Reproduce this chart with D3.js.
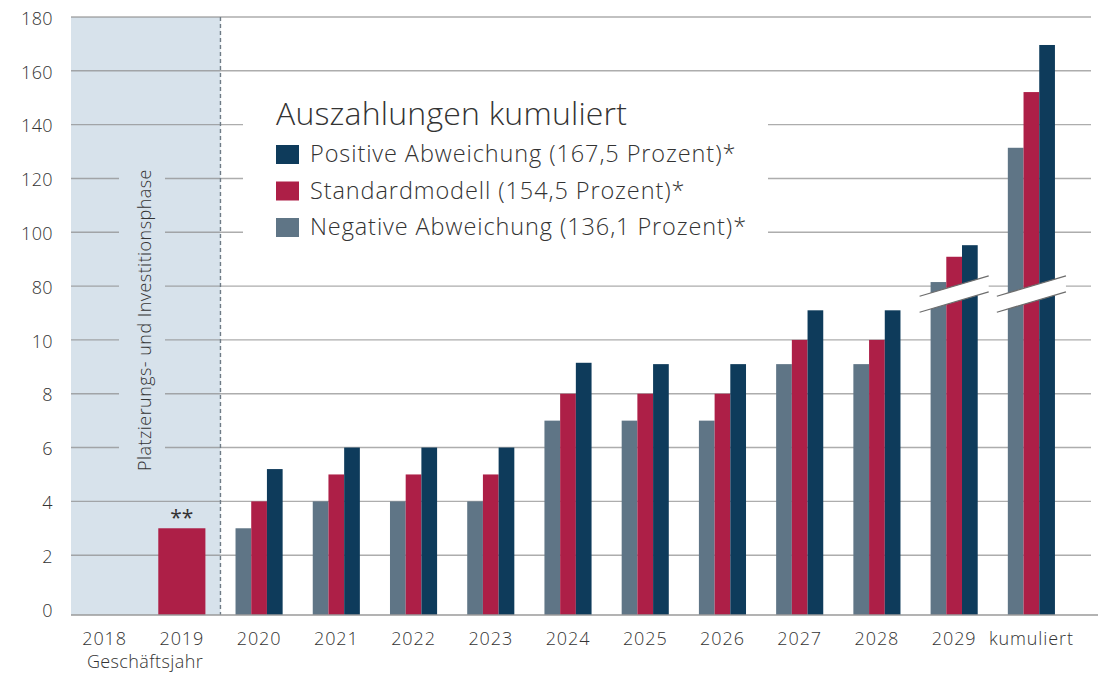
<!DOCTYPE html>
<html>
<head>
<meta charset="utf-8">
<script src="https://cdn.jsdelivr.net/npm/d3@7"></script>
<style>
  body { margin: 0; background: #fff; }
  svg text { font-family: "Open Sans", "Noto Sans", sans-serif; font-weight: 300; fill: #333; }
</style>
</head>
<body>
<script>
// data
var categories = ["2018", "2019", "2020", "2021", "2022", "2023", "2024", "2025", "2026", "2027", "2028", "2029", "kumuliert"];
var negative = [null, null, 3, 4, 4, 4, 7, 7, 7, 9.1, 9.1, 81.5, 131.4];
var standard = [null, 3, 4, 5, 5, 5, 8, 8, 8, 10, 10, 90.9, 152.1];
var positive = [null, null, 5.2, 6, 6, 6, 9.15, 9.1, 9.1, 11.1, 11.1, 95.2, 169.6];
var yTicks = [0, 2, 4, 6, 8, 10, 80, 100, 120, 140, 160, 180];
var brokenCats = ["2029", "kumuliert"];

var seriesNames = ["Negative Abweichung (136,1 Prozent)*", "Standardmodell (154,5 Prozent)*", "Positive Abweichung (167,5 Prozent)*"];
var seriesValues = [negative, standard, positive];
var colors = ["#5f7586", "#ad1f47", "#0e3b5b"];

chart();

function chart ()
{
    var width = 1098,
        height = 676,
        left = 71,
        right = 1091,
        top = 17,
        baseline = 615,
        zeroY = 609;

    var svg = d3.select("body").append("svg")
        .attr("width", width)
        .attr("height", height);

    // broken axis: 0..10 and 80..180 share equal tick spacing
    var step = (zeroY - top) / 11;
    var y = d3.scaleLinear()
        .domain([0, 10, 12, 80, 180])
        .range([zeroY, zeroY - 5 * step, zeroY - 6 * step, zeroY - 6 * step, top]);

    var x0 = d3.scaleBand()
        .domain(categories)
        .range([66, 1070])
        .paddingInner(0.39)
        .paddingOuter(0.195);
    var x1 = d3.scaleBand()
        .domain(d3.range(3))
        .range([0, x0.bandwidth()]);

    // shaded phase
    var phaseRight = (x0("2019") + x0.bandwidth() + x0("2020")) / 2;
    svg.append("rect")
        .attr("x", left)
        .attr("y", top)
        .attr("width", phaseRight - left)
        .attr("height", baseline - top)
        .attr("fill", "#d7e2eb");

    // grid
    svg.append("g")
        .selectAll("line")
        .data(yTicks.filter(d => d > 0))
        .enter()
        .append("line")
        .attr("x1", left)
        .attr("x2", right)
        .attr("y1", d => y(d))
        .attr("y2", d => y(d))
        .attr("stroke", "#8a8a8a")
        .attr("stroke-opacity", 0.7)
        .attr("stroke-width", 1.4);

    // phase label (covers grid)
    var phaseX = 145;
    var phaseMid = 320;
    svg.append("rect")
        .attr("x", phaseX - 26)
        .attr("y", phaseMid - 152)
        .attr("width", 46)
        .attr("height", 304)
        .attr("fill", "#d7e2eb");
    svg.append("text")
        .attr("transform", "translate(" + (phaseX + 6) + "," + phaseMid + ") rotate(-90)")
        .attr("text-anchor", "middle")
        .style("font-size", "18px")
        .style("letter-spacing", "0.45px")
        .text("Platzierungs- und Investitionsphase");

    // bars
    var bars = svg.append("g");
    categories.forEach(function (c, i)
    {
        var present = seriesValues.map((s, k) => k).filter(k => seriesValues[k][i] != null);
        present.forEach(function (k)
        {
            var v = seriesValues[k][i];
            var bx = present.length === 1 ? x0(c) : x0(c) + x1(k);
            var bw = present.length === 1 ? x0.bandwidth() : x1.bandwidth();
            bars.append("rect")
                .attr("x", bx)
                .attr("y", y(v))
                .attr("width", bw)
                .attr("height", baseline - y(v))
                .attr("fill", colors[k]);
        });
    });

    // "**" over 2019
    svg.append("text")
        .attr("x", x0("2019") + x0.bandwidth() / 2)
        .attr("y", y(standard[1]) - 3)
        .attr("text-anchor", "middle")
        .style("font-size", "21px")
        .style("font-weight", 400)
        .text("**");

    // axis breaks
    var slope = -0.294;
    brokenCats.forEach(function (c)
    {
        var cx = x0(c) + x0.bandwidth() / 2;
        var cy = y(80) + 8;
        var half = x0.bandwidth() / 2 + 11;
        var gap = 8;
        var xa = cx - half, xb = cx + half;
        var ya = cy - slope * half, yb = cy + slope * half;
        svg.append("path")
            .attr("d", "M" + xa + "," + (ya - gap) + "L" + xb + "," + (yb - gap) +
                "L" + xb + "," + (yb + gap) + "L" + xa + "," + (ya + gap) + "Z")
            .attr("fill", "#fff");
        [-gap, gap].forEach(function (g)
        {
            svg.append("line")
                .attr("x1", xa).attr("y1", ya + g)
                .attr("x2", xb).attr("y2", yb + g)
                .attr("stroke", "#6d6d6d")
                .attr("stroke-width", 1.3);
        });
    });

    // dashed phase border
    svg.append("line")
        .attr("x1", phaseRight)
        .attr("x2", phaseRight)
        .attr("y1", top)
        .attr("y2", baseline)
        .attr("stroke", "#6f7b86")
        .attr("stroke-width", 1.4)
        .attr("stroke-dasharray", "4,3");

    // baseline
    svg.append("line")
        .attr("x1", left)
        .attr("x2", width)
        .attr("y1", baseline)
        .attr("y2", baseline)
        .attr("stroke", "#9a9a9a")
        .attr("stroke-width", 1.5);

    // y axis
    var yAxis = d3.axisLeft(y)
        .tickValues(yTicks)
        .tickSize(0)
        .tickPadding(18);
    var gy = svg.append("g")
        .attr("transform", "translate(" + left + ",0)")
        .call(yAxis);
    gy.select(".domain").remove();
    gy.selectAll("text")
        .attr("dy", "0.4em")
        .style("font-size", "18px")
        .style("letter-spacing", "0.4px")
        .style("font-family", null);

    // x axis
    var xAxis = d3.axisBottom(x0)
        .tickSize(0)
        .tickPadding(17);
    var gx = svg.append("g")
        .attr("transform", "translate(0," + baseline + ")")
        .call(xAxis);
    gx.select(".domain").remove();
    gx.selectAll("text")
        .style("font-size", "18px")
        .style("letter-spacing", "0.9px")
        .style("font-family", null);

    svg.append("text")
        .attr("x", 145)
        .attr("y", 668)
        .attr("text-anchor", "middle")
        .style("font-size", "18px")
        .style("letter-spacing", "0.4px")
        .text("Geschäftsjahr");

    // legend
    var legend = svg.append("g");
    legend.append("rect")
        .attr("x", 243)
        .attr("y", 92)
        .attr("width", 525)
        .attr("height", 154)
        .attr("fill", "#fff");
    legend.append("text")
        .attr("x", 276)
        .attr("y", 125)
        .style("font-size", "32px")
        .style("letter-spacing", "0.2px")
        .text("Auszahlungen kumuliert");
    var order = [2, 1, 0];
    order.forEach(function (k, j)
    {
        var ly = 145 + j * 36.5;
        legend.append("rect")
            .attr("x", 276)
            .attr("y", ly)
            .attr("width", 23)
            .attr("height", 19)
            .attr("fill", colors[k]);
        legend.append("text")
            .attr("x", 310)
            .attr("y", ly + 17)
            .style("font-size", "23.5px")
            .style("letter-spacing", "0.9px")
            .text(seriesNames[k]);
    });
}
</script>
</body>
</html>
